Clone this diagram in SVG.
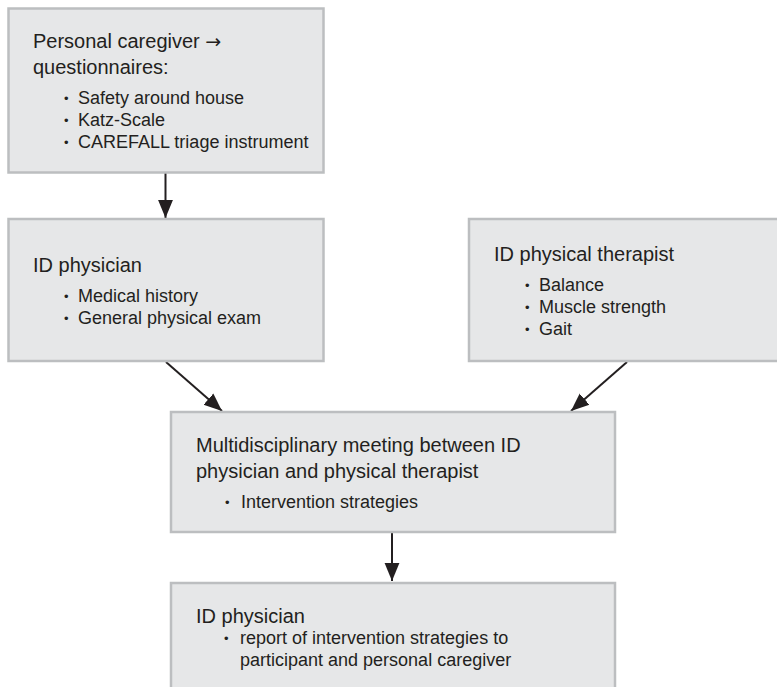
<svg xmlns="http://www.w3.org/2000/svg" width="777" height="687" viewBox="0 0 777 687">
  <style>
    .box { fill: #e6e7e8; stroke: #bcbec0; stroke-width: 2.5; }
    .title { font-family: "Liberation Sans", Arial, sans-serif; font-size: 20px; fill: #231f20; }
    .item { font-family: "Liberation Sans", Arial, sans-serif; font-size: 18px; fill: #231f20; }
    .dot { font-family: "Liberation Sans", Arial, sans-serif; font-size: 13px; fill: #231f20; }
    .sym { font-family: "DejaVu Sans", sans-serif; font-size: 19px; }
    .link { stroke: #231f20; stroke-width: 2; fill: none; marker-end: url(#head); }
  </style>
  <defs>
    <marker id="head" markerUnits="userSpaceOnUse" markerWidth="18" markerHeight="18" viewBox="0 0 17 14" refX="17" refY="7" orient="auto">
      <path d="M0,0 L17,7 L0,14 Z" fill="#231f20"/>
    </marker>
  </defs>
  <rect width="777" height="687" fill="#ffffff"/>

  <g id="connectors">
    <line class="link" x1="165.5" y1="173" x2="165.5" y2="218"/>
    <line class="link" x1="166" y1="362" x2="222" y2="411"/>
    <line class="link" x1="627" y1="362" x2="571" y2="411"/>
    <line class="link" x1="392" y1="533" x2="392" y2="581"/>
  </g>

  <g id="caregiver">
    <rect class="box" x="8.5" y="8.5" width="315" height="164"/>
    <text class="title" x="33" y="48">Personal caregiver <tspan class="sym">→</tspan></text>
    <text class="title" x="33" y="74">questionnaires:</text>
    <text class="dot" x="64" y="103">•</text>
    <text class="item" x="78" y="104">Safety around house</text>
    <text class="dot" x="64" y="125">•</text>
    <text class="item" x="78" y="126">Katz-Scale</text>
    <text class="dot" x="64" y="147">•</text>
    <text class="item" x="78" y="148">CAREFALL triage instrument</text>
  </g>

  <g id="physician">
    <rect class="box" x="8.5" y="219" width="315" height="142"/>
    <text class="title" x="33" y="272">ID physician</text>
    <text class="dot" x="64" y="301">•</text>
    <text class="item" x="78" y="302">Medical history</text>
    <text class="dot" x="64" y="323">•</text>
    <text class="item" x="78" y="324">General physical exam</text>
  </g>

  <g id="therapist">
    <rect class="box" x="469" y="219" width="312" height="142"/>
    <text class="title" x="494" y="261">ID physical therapist</text>
    <text class="dot" x="525" y="290">•</text>
    <text class="item" x="539" y="291">Balance</text>
    <text class="dot" x="525" y="312">•</text>
    <text class="item" x="539" y="313">Muscle strength</text>
    <text class="dot" x="525" y="334">•</text>
    <text class="item" x="539" y="335">Gait</text>
  </g>

  <g id="meeting">
    <rect class="box" x="171" y="412" width="444" height="120"/>
    <text class="title" x="196" y="452">Multidisciplinary meeting between ID</text>
    <text class="title" x="196" y="478">physician and physical therapist</text>
    <text class="dot" x="225" y="507">•</text>
    <text class="item" x="241" y="508">Intervention strategies</text>
  </g>

  <g id="report">
    <rect class="box" x="171" y="583" width="444" height="110"/>
    <text class="title" x="196" y="623">ID physician</text>
    <text class="dot" x="224" y="643">•</text>
    <text class="item" x="240" y="644">report of intervention strategies to</text>
    <text class="item" x="240" y="666">participant and personal caregiver</text>
  </g>
</svg>
